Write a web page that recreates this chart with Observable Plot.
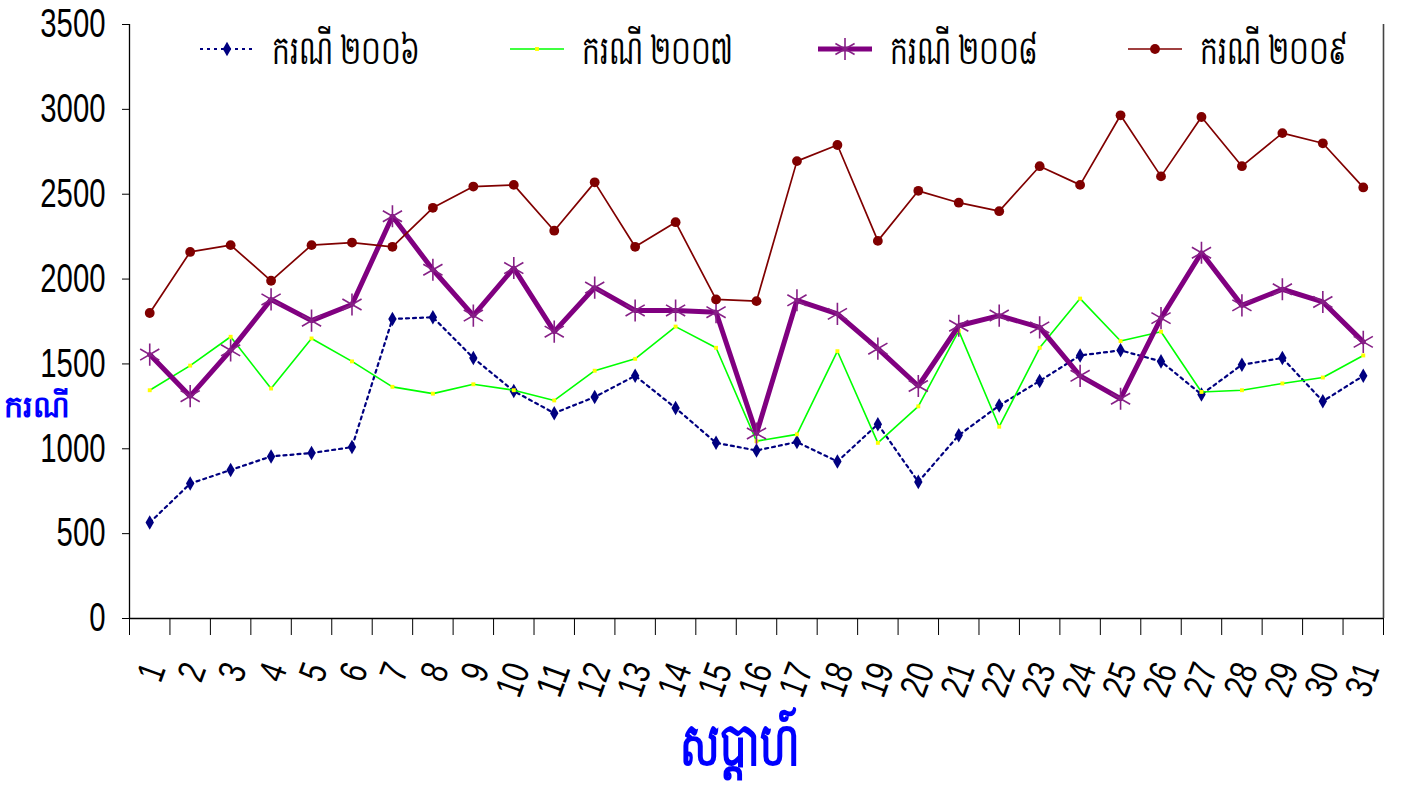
<!DOCTYPE html>
<html><head><meta charset="utf-8">
<script src="https://cdn.jsdelivr.net/npm/d3@7"></script>
<script src="https://cdn.jsdelivr.net/npm/@observablehq/plot@0.6"></script>
<style>
body{margin:0;background:#fff;}
#wrap{position:relative;width:1403px;height:793px;overflow:hidden;background:#fff;}
.leg{position:absolute;display:flex;align-items:center;font-size:40px;color:#000;white-space:nowrap;}
.leg svg{display:block;}
.leg span{display:inline-block;position:relative;top:7px;transform:scaleX(0.7);transform-origin:left center;}
.ylab{position:absolute;left:4px;top:388px;color:#0000FF;font-weight:bold;font-size:30px;}
.xlab{position:absolute;left:0;width:1480px;top:712px;text-align:center;color:#0000FF;font-weight:bold;font-size:52px;}
.xlab span{display:inline-block;transform:scale(0.8,1.15);}
</style></head><body><div id="wrap"></div>
<script>
// ---- data ----
const weeks = [1,2,3,4,5,6,7,8,9,10,11,12,13,14,15,16,17,18,19,20,21,22,23,24,25,26,27,28,29,30,31];
const seriesNames = ["ករណី ២០០៦", "ករណី ២០០៧", "ករណី ២០០៨", "ករណី ២០០៩"];
const cases2006 = [565,795,875,955,975,1010,1765,1775,1535,1340,1210,1305,1430,1240,1035,990,1040,925,1145,805,1080,1255,1400,1550,1580,1515,1320,1495,1535,1280,1430];
const cases2007 = [1345,1490,1660,1355,1650,1515,1365,1325,1380,1345,1285,1460,1530,1720,1595,1045,1085,1575,1035,1250,1695,1130,1595,1885,1635,1690,1335,1345,1385,1420,1550];
const cases2008 = [1555,1310,1580,1880,1755,1850,2370,2055,1785,2065,1690,1950,1815,1815,1805,1090,1875,1795,1590,1370,1725,1785,1715,1430,1295,1770,2155,1845,1940,1865,1630];
const cases2009 = [1800,2160,2200,1990,2200,2215,2190,2420,2545,2555,2285,2570,2190,2335,1880,1870,2695,2790,2225,2520,2450,2400,2665,2555,2965,2605,2955,2665,2860,2800,2540];
const yTicks = [0,500,1000,1500,2000,2500,3000,3500];
const xTitle = "សប្តាហ៍";
const yTitle = "ករណី";

// ---- styles ----
const styles = [
  {stroke:"#000080", width:2.2, dash:"3,4", symbol:"diamond", r:4.4, fill:"#000080", mstroke:"none", mwidth:0},
  {stroke:"#00FF00", width:1.6, dash:null, symbol:"square", r:2.2, fill:"#FFFF00", mstroke:"none", mwidth:0},
  {stroke:"#800080", width:5, dash:null, symbol:"asterisk", r:10.5, fill:"none", mstroke:"#862086", mwidth:1.6},
  {stroke:"#800000", width:1.7, dash:null, symbol:"circle", r:4.9, fill:"#800000", mstroke:"none", mwidth:0}
];
const allSeries = [cases2006, cases2007, cases2008, cases2009];
const FONT = '"Liberation Sans",Arial,sans-serif';
const DIGIT_W = 16.3; // condensed digit advance, px

const boundaries = weeks.map(w => w - 0.5).concat([weeks[weeks.length-1] + 0.5]);

const marks = [
  Plot.ruleY([0], {stroke:"#000", strokeWidth:1.3}),
  Plot.ruleX([boundaries[0]], {stroke:"#000", strokeWidth:1.3}),
  Plot.ruleX([boundaries[boundaries.length-1]], {stroke:"#444", strokeWidth:1.6}),
  Plot.axisY({ticks: yTicks, label: null, tickSize: 7, tickPadding: 17, fontSize: 40, tickFormat: d => String(d), stroke:"#000"}),
  Plot.axisX({ticks: boundaries, label: null, tickSize: 17, tickFormat: () => "", stroke:"#000"}),
  Plot.axisX({ticks: weeks, label: null, tickSize: 0, tickPadding: 46, tickRotate: -70, fontSize: 38, dx: 5, tickFormat: d => String(d)})
];
allSeries.forEach((vals, i) => {
  const s = styles[i];
  const rows = weeks.map((w, j) => ({week: w, value: vals[j]}));
  marks.push(Plot.line(rows, {x:"week", y:"value", stroke:s.stroke, strokeWidth:s.width, strokeDasharray:s.dash || undefined, strokeLinejoin:"round"}));
  marks.push(Plot.dot(rows, {x:"week", y:"value", symbol:s.symbol, r:s.r, fill:s.fill, stroke:s.mstroke, strokeWidth:s.mwidth}));
});

const chart = Plot.plot({
  width: 1403, height: 793,
  marginLeft: 129, marginRight: 20, marginTop: 24, marginBottom: 175,
  style: {fontFamily: FONT, background: "#fff", overflow: "visible"},
  x: {type: "linear", domain: [boundaries[0], boundaries[boundaries.length-1]]},
  y: {domain: [0, 3500]},
  marks
});
// narrow, tall tick labels like the original
chart.querySelectorAll('g[aria-label$="tick label"] text').forEach(t => {
  const n = (t.textContent || "").length;
  if (n) {
    t.setAttribute("textLength", n * DIGIT_W);
    t.setAttribute("lengthAdjust", "spacingAndGlyphs");
  }
});
const wrap = document.getElementById("wrap");
chart.style.position = "absolute"; chart.style.left = "0"; chart.style.top = "0";
wrap.appendChild(chart);

// ---- legend (HTML overlay) ----
const legLeft = [200, 510, 818, 1128];
const symMap = {diamond: d3.symbolDiamond, square: d3.symbolSquare, asterisk: d3.symbolAsterisk, circle: d3.symbolCircle};
seriesNames.forEach((name, i) => {
  const s = styles[i];
  const path = d3.symbol(symMap[s.symbol], s.r * s.r * Math.PI)();
  const div = document.createElement("div");
  div.className = "leg";
  div.style.left = legLeft[i] + "px";
  div.style.top = "18px";
  div.innerHTML = `<svg width="56" height="46" viewBox="0 0 56 46">
    <line x1="0" x2="54" y1="24" y2="24" stroke="${s.stroke}" stroke-width="${s.width}" ${s.dash ? `stroke-dasharray="${s.dash}"` : ""}/>
    <path transform="translate(27,24)" d="${path}" fill="${s.fill}" stroke="${s.mstroke}" stroke-width="${s.mwidth}"/>
  </svg><span style="margin-left:16px">${name}</span>`;
  wrap.appendChild(div);
});
const yl = document.createElement("div"); yl.className = "ylab"; yl.textContent = yTitle; wrap.appendChild(yl);
const xl = document.createElement("div"); xl.className = "xlab";
const xs = document.createElement("span"); xs.textContent = xTitle; xl.appendChild(xs); wrap.appendChild(xl);
</script></body></html>
